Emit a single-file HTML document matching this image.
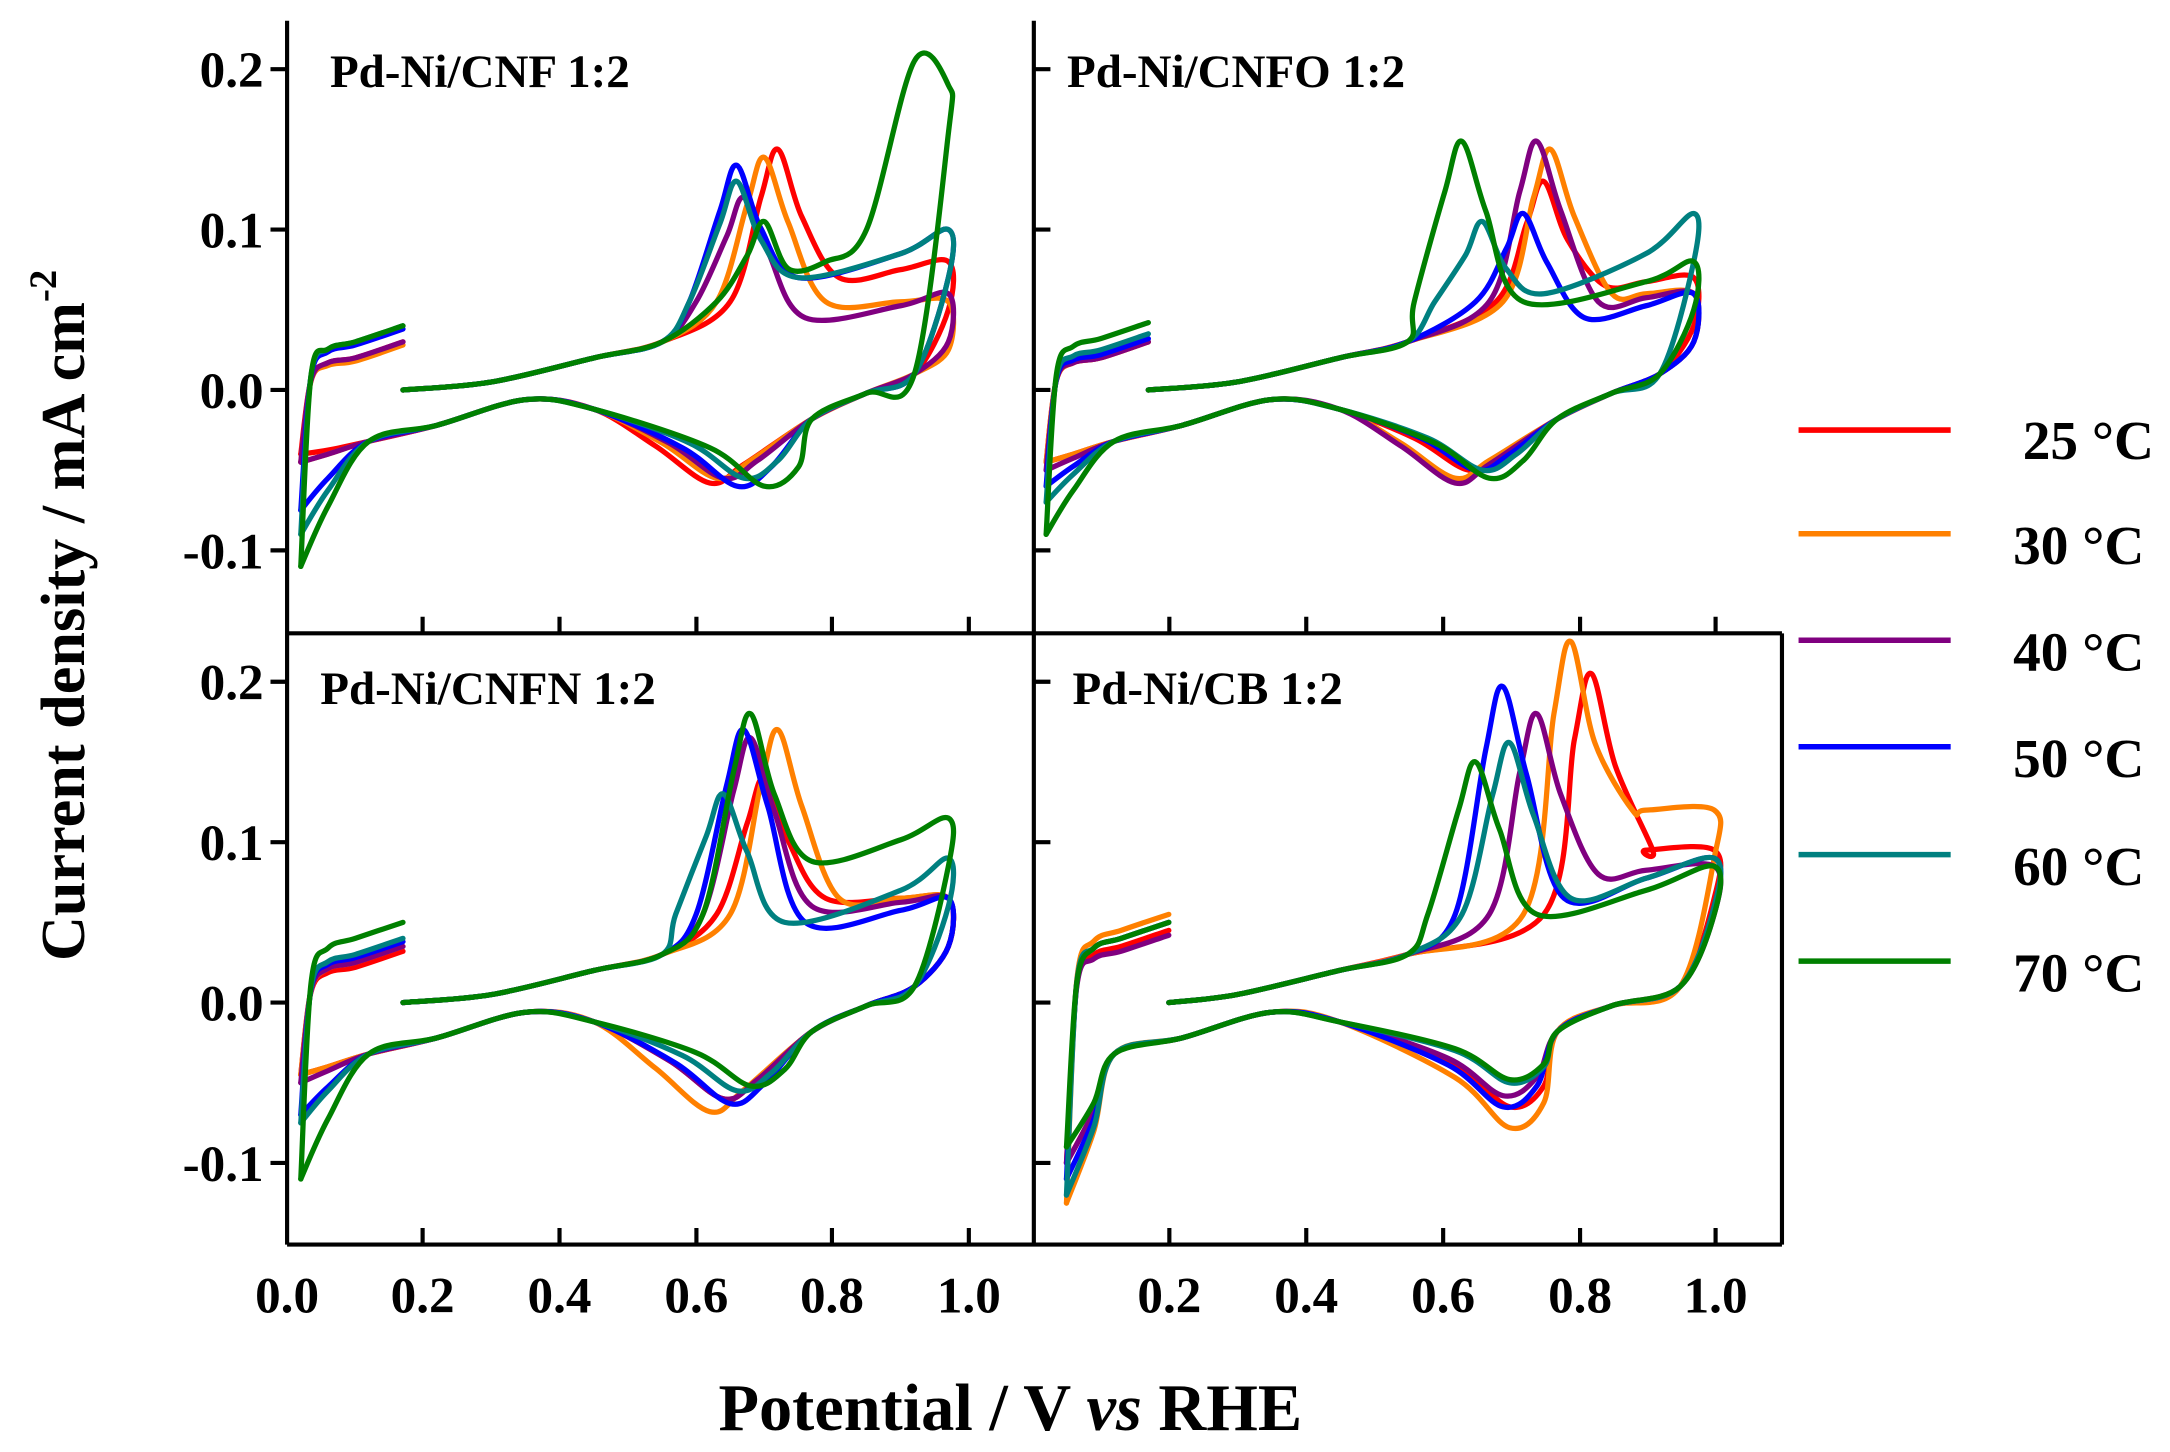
<!DOCTYPE html>
<html><head><meta charset="utf-8"><style>
html,body{margin:0;padding:0;background:#fff}
svg{display:block}
text{font-family:"Liberation Serif",serif;font-weight:bold;fill:#000}
</style></head><body>
<svg id="s" width="2170" height="1452" viewBox="0 0 1568 1050" xmlns="http://www.w3.org/2000/svg">
<g id="curves" fill="none" stroke-width="3.8" stroke-linejoin="round" stroke-linecap="round"></g>
<g stroke="#000" stroke-width="3" fill="none">
<line x1="207" y1="15" x2="207" y2="900"/>
<line x1="747" y1="15" x2="747" y2="900"/>
<line x1="207" y1="458" x2="1288" y2="458"/>
<line x1="207" y1="900" x2="1288" y2="900"/>
<line x1="1288" y1="458" x2="1288" y2="900"/>
<path d="M195 50H207M195 166H207M195 282H207M195 398H207M195 493H207M195 609H207M195 725H207M195 841H207
M747 50H759M747 166H759M747 282H759M747 398H759M747 493H759M747 609H759M747 725H759M747 841H759
M305 458V446M404 458V446M503 458V446M601 458V446M700 458V446
M845 458V446M944 458V446M1043 458V446M1142 458V446M1240 458V446
M305 900V888M404 900V888M503 900V888M601 900V888M700 900V888
M845 900V888M944 900V888M1043 900V888M1142 900V888M1240 900V888"/>
</g>
<g font-size="37" text-anchor="end">
<text x="190" y="63">0.2</text><text x="190" y="179">0.1</text><text x="190" y="295">0.0</text><text x="190" y="411">-0.1</text>
<text x="190" y="506">0.2</text><text x="190" y="622">0.1</text><text x="190" y="738">0.0</text><text x="190" y="854">-0.1</text>
</g>
<g font-size="37" text-anchor="middle">
<text x="207" y="949">0.0</text><text x="305" y="949">0.2</text><text x="404" y="949">0.4</text><text x="503" y="949">0.6</text><text x="601" y="949">0.8</text><text x="700" y="949">1.0</text>
<text x="845" y="949">0.2</text><text x="944" y="949">0.4</text><text x="1043" y="949">0.6</text><text x="1142" y="949">0.8</text><text x="1240" y="949">1.0</text>
</g>
<g font-size="34">
<text x="238" y="63">Pd-Ni/CNF 1:2</text>
<text x="771" y="63">Pd-Ni/CNFO 1:2</text>
<text x="231" y="509">Pd-Ni/CNFN 1:2</text>
<text x="775" y="509">Pd-Ni/CB 1:2</text>
</g>
<text x="730" y="1034" font-size="48" text-anchor="middle">Potential / V <tspan font-style="italic">vs</tspan> RHE</text>
<text transform="translate(60,445) rotate(-90)" font-size="45" text-anchor="middle">Current density / mA cm<tspan font-size="28" dy="-20">-2</tspan></text>
<g stroke-width="4">
<line x1="1300" y1="311" x2="1410" y2="311" stroke="#ff0000"/>
<line x1="1300" y1="386" x2="1410" y2="386" stroke="#ff8000"/>
<line x1="1300" y1="463" x2="1410" y2="463" stroke="#800080"/>
<line x1="1300" y1="540" x2="1410" y2="540" stroke="#0000ff"/>
<line x1="1300" y1="618" x2="1410" y2="618" stroke="#008080"/>
<line x1="1300" y1="695" x2="1410" y2="695" stroke="#008000"/>
</g>
<g font-size="40" text-anchor="end">
<text x="1557" y="332">25 °C</text><text x="1550" y="408">30 °C</text><text x="1550" y="485">40 °C</text>
<text x="1550" y="562">50 °C</text><text x="1550" y="640">60 °C</text><text x="1550" y="717">70 °C</text>
</g>
</svg>
<script>
var C=["#ff0000","#ff8000","#800080","#0000ff","#008080","#008000"];
function smooth(pts){var d="M"+pts[0][0].toFixed(1)+" "+pts[0][1].toFixed(1);
for(var i=0;i<pts.length-1;i++){var p0=pts[Math.max(0,i-1)],p1=pts[i],p2=pts[i+1],p3=pts[Math.min(pts.length-1,i+2)];
var c1=[p1[0]+(p2[0]-p0[0])/6,p1[1]+(p2[1]-p0[1])/6],c2=[p2[0]-(p3[0]-p1[0])/6,p2[1]-(p3[1]-p1[1])/6];
d+="C"+c1[0].toFixed(1)+" "+c1[1].toFixed(1)+" "+c2[0].toFixed(1)+" "+c2[1].toFixed(1)+" "+p2[0].toFixed(1)+" "+p2[1].toFixed(1);}return d;}
var g=document.getElementById("curves");
function add(d,c){var p=document.createElementNS("http://www.w3.org/2000/svg","path");p.setAttribute("d",d);p.setAttribute("stroke",c);g.appendChild(p);}
function panel(x0,y0,Emin,Es,Emax,list){
list.forEach(function(o,i){
var X=function(v){return x0+v*493},Y=function(a){return y0-a*1160};
var m=function(a){return a.map(function(q){return [X(q[0]),Y(q[1])]})};
var hT=o.ht||0.03;
add(smooth(m([[Emin,o.low],[Emin+0.015,hT*0.3],[Emin+0.04,hT*0.85],[Emin+0.08,hT],[Es,hT+0.01]])),C[i]);
var p=o.p,h=o.h,pts=[[Es,0],[0.3,0.005],[0.45,o.a||0.02],[0.55,0.03],[p-0.07,0.055],[p-0.025,h*0.8],[p,h],[p+0.035,h*0.72],[p+0.09,o.post]];
if(o.h2){pts.push([0.85,o.post+0.02],[o.p2,o.h2],[Emax,o.end]);}else{pts.push([0.9,(o.post+o.end)/2],[Emax,o.end]);}
pts.push([Emax,o.end-0.03],[Emax-0.05,0.01],[0.85,-0.002],[0.77,-0.018],[o.cp+0.05,-o.cd*0.8],[o.cp,-o.cd],[o.cp-0.08,-o.cd*0.6],[0.45,-0.012],[0.35,-0.006],[0.22,-0.022],[0.12,-0.032],[Emin+0.04,(o.low-0.035)/2],[Emin,o.low]);
add(smooth(m(pts)),C[i]);});}
panel(207,282,0.02,0.17,0.97,[
{p:.72,h:.15,post:.07,end:.08,cp:.62,cd:.058,low:-.04,ht:.02},
{p:.70,h:.145,post:.055,end:.055,cp:.63,cd:.055,low:-.045,ht:.018},
{p:.67,h:.12,post:.045,end:.06,cp:.64,cd:.055,low:-.045,ht:.02},
{p:.66,h:.14,post:.07,end:.10,cp:.66,cd:.06,low:-.075,ht:.028},
{p:.66,h:.13,post:.07,end:.10,cp:.67,cd:.055,low:-.09,ht:.03},
{p:.70,h:.105,post:.08,end:.19,cp:.70,cd:.06,low:-.11,ht:.03,h2:.205,p2:.92}]);
panel(746,282,0.02,0.17,0.97,[
{p:.75,h:.13,post:.065,end:.07,cp:.64,cd:.05,low:-.045,ht:.02},
{p:.76,h:.15,post:.06,end:.06,cp:.62,cd:.055,low:-.045,ht:.02},
{p:.74,h:.155,post:.055,end:.06,cp:.62,cd:.058,low:-.05,ht:.02},
{p:.72,h:.11,post:.045,end:.06,cp:.65,cd:.05,low:-.06,ht:.022},
{p:.66,h:.105,post:.06,end:.11,cp:.66,cd:.05,low:-.07,ht:.025},
{p:.63,h:.155,post:.055,end:.08,cp:.67,cd:.055,low:-.09,ht:.032}]);
panel(207,725,0.02,0.17,0.97,[
{p:.70,h:.14,post:.065,end:.065,cp:.64,cd:.06,low:-.045,ht:.022},
{p:.72,h:.17,post:.065,end:.065,cp:.62,cd:.068,low:-.045,ht:.025},
{p:.68,h:.165,post:.06,end:.065,cp:.64,cd:.06,low:-.05,ht:.025},
{p:.67,h:.17,post:.05,end:.065,cp:.65,cd:.063,low:-.07,ht:.028},
{p:.64,h:.13,post:.05,end:.09,cp:.66,cd:.055,low:-.075,ht:.03},
{p:.68,h:.18,post:.088,end:.115,cp:.68,cd:.052,low:-.11,ht:.04}]);
panel(746,725,0.05,0.2,1.0,[
{p:.82,h:.205,post:.095,end:.095,cp:.70,cd:.065,low:-.1,ht:.035},
{p:.79,h:.225,post:.12,end:.12,cp:.70,cd:.078,low:-.125,ht:.045},
{p:.74,h:.18,post:.08,end:.085,cp:.69,cd:.058,low:-.1,ht:.032},
{p:.69,h:.197,post:.065,end:.09,cp:.69,cd:.065,low:-.11,ht:.04},
{p:.70,h:.162,post:.065,end:.09,cp:.70,cd:.05,low:-.12,ht:.04},
{p:.65,h:.15,post:.055,end:.085,cp:.70,cd:.048,low:-.09,ht:.04}]);
</script>
</body></html>
